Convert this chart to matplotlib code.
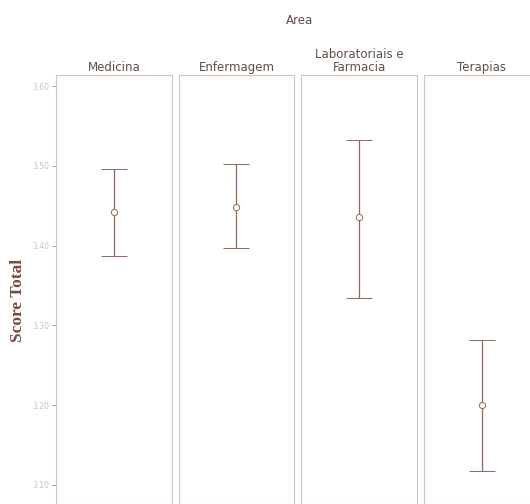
import matplotlib
matplotlib.use("Agg")
import matplotlib.pyplot as plt

areas = ["Medicina", "Enfermagem", "Laboratoriais e\nFarmacia", "Terapias"]
means = [3.442, 3.449, 3.436, 3.200]
lower = [3.387, 3.397, 3.334, 3.118]
upper = [3.496, 3.503, 3.533, 3.282]
yticks = [3.10, 3.20, 3.30, 3.40, 3.50, 3.60]

BAR = "#94665a"
FRAME = "#cfc6b8"
TICKTXT = "#cdc2b2"
LABEL = "#5e4e46"
FONT = ["DejaVu Sans"]

fig = plt.figure(figsize=(5.30, 5.04), dpi=100)
fig.patch.set_facecolor("white")

left0, width, gap = 56 / 530, 116 / 530, 6.5 / 530
bottom, height = 0.0, (504 - 75) / 504

axes = []
for i, (name, m, lo, hi) in enumerate(zip(areas, means, lower, upper)):
    ax = fig.add_axes([left0 + i * (width + gap), bottom, width, height],
                      sharey=axes[0] if axes else None)
    axes.append(ax)
    ax.errorbar([0], [m], yerr=[[m - lo], [hi - m]], fmt="o", color=BAR,
                ecolor=BAR, elinewidth=0.9, capsize=9.5, capthick=1.3,
                markersize=4.5, markerfacecolor="white", markeredgewidth=0.7)
    ax.set_xlim(-1, 1)
    ax.set_xticks([])
    for s in ax.spines.values():
        s.set_color(FRAME)
        s.set_linewidth(0.8)
    ax.set_title(name, fontsize=8.5, color=LABEL, family=FONT,
                 linespacing=0.95, pad=3)
    if i == 0:
        ax.set_yticks(yticks)
        ax.set_yticklabels([f"{v:.2f}" for v in yticks])
        ax.tick_params(axis="y", length=3, width=0.7, color="#a89888",
                       labelsize=5.5, labelcolor=TICKTXT, pad=2)
    else:
        ax.tick_params(axis="y", left=False, labelleft=False)

axes[0].set_ylim(3.076, 3.614)
fig.text(18 / 530, 1 - 300 / 504, "Score Total", rotation=90, ha="center",
         va="center", fontsize=12.5, fontweight="bold", color="#7a4a3c",
         family="Liberation Serif")
fig.text(300 / 530, 1 - 20 / 504, "Area", ha="center", va="center",
         fontsize=8.5, color=LABEL, family=FONT)

fig.savefig("out.png", dpi=100)
